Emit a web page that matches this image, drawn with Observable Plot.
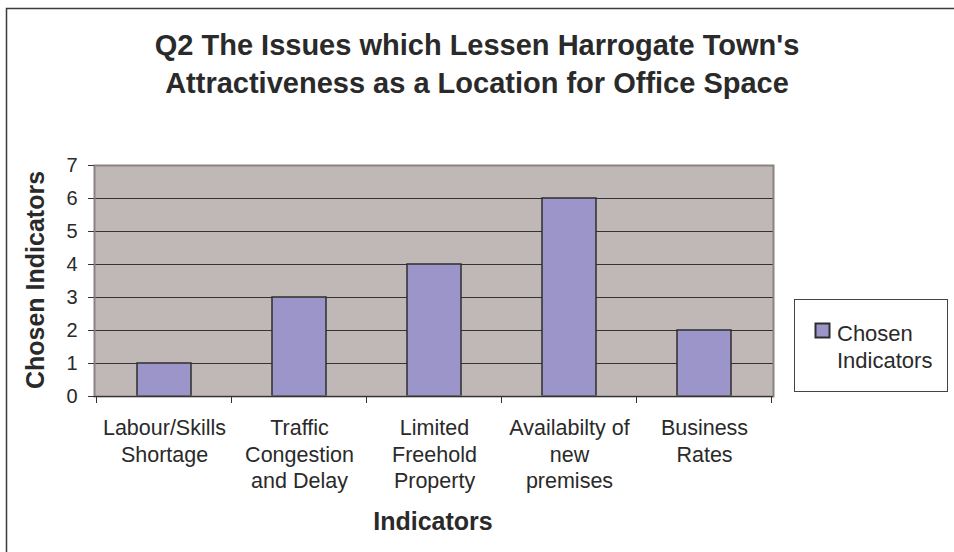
<!DOCTYPE html>
<html>
<head>
<meta charset="utf-8">
<script src="https://cdn.jsdelivr.net/npm/d3@7"></script>
<script src="https://cdn.jsdelivr.net/npm/@observablehq/plot@0.6"></script>
<style>
  html, body { margin: 0; padding: 0; background: #fff; }
  #chart { width: 954px; height: 552px; overflow: hidden; }
</style>
</head>
<body>
<div id="chart"></div>
<script>
const categories = ["Labour/Skills Shortage", "Traffic Congestion and Delay", "Limited Freehold Property", "Availabilty of new premises", "Business Rates"];
const tickLabels = ["Labour/Skills\nShortage", "Traffic\nCongestion\nand Delay", "Limited\nFreehold\nProperty", "Availabilty of\nnew\npremises", "Business\nRates"];
const values = [1, 3, 4, 6, 2];
const yTicks = [0, 1, 2, 3, 4, 5, 6, 7];
const gridTicks = [1, 2, 3, 4, 5, 6];
const legendLines = ["Chosen", "Indicators"];
const titleLines = ["Q2 The Issues which Lessen Harrogate Town's", "Attractiveness as a Location for Office Space"];
const xTitle = "Indicators";
const yTitle = "Chosen Indicators";

const data = categories.map((c, i) => ({category: c, value: values[i]}));
const labelOf = new Map(categories.map((c, i) => [c, tickLabels[i]]));

const font = "'Liberation Sans', Arial, Helvetica, sans-serif";
const textColor = "#2a2a2a";
const barFill = "#9B95C9";

const chart = Plot.plot({
  width: 954,
  height: 552,
  marginTop: 165,
  marginBottom: 156,
  marginLeft: 94,
  marginRight: 181,
  style: {fontFamily: font, background: "transparent", color: textColor},
  x: {domain: categories, paddingInner: 0.6, paddingOuter: 0.3, label: null},
  y: {domain: [0, 7], label: null},
  marks: [
    Plot.frame({fill: "#C0B8B6", stroke: null}),
    Plot.gridY(gridTicks, {stroke: "#333", strokeOpacity: 1, strokeWidth: 1}),
    Plot.barY(data, {x: "category", y: "value", fill: barFill, stroke: "#2e2e2e", strokeWidth: 1.5}),
    Plot.frame({stroke: "#8a8282", strokeWidth: 2}),
    Plot.ruleY([0], {stroke: "#333", strokeWidth: 1}),
    Plot.axisY({ticks: yTicks, tickSize: 6, tickPadding: 11, fontSize: 20, stroke: "#333", label: null, tickFormat: d => String(d)}),
    Plot.axisX({tickSize: 0, tickPadding: 20, fontSize: 21.5, lineHeight: 1.23, label: null, tickFormat: d => labelOf.get(d)})
  ]
});

document.getElementById("chart").appendChild(chart);

const svg = d3.select(chart);
const xs = chart.scale("x");
const step = xs.step, bw = xs.bandwidth;
const bounds = categories.map(c => xs.apply(c) - (step - bw) / 2);
bounds.push(bounds[bounds.length - 1] + step);
svg.append("g").selectAll("line").data(bounds).join("line")
  .attr("x1", d => d).attr("x2", d => d)
  .attr("y1", 396).attr("y2", 403)
  .attr("stroke", "#333").attr("stroke-width", 1);

// outer frame (right and bottom edges fall outside the picture)
svg.append("rect").attr("x", 6.5).attr("y", 8.5).attr("width", 1000).attr("height", 600)
  .attr("fill", "none").attr("stroke", "#3a3a3a").attr("stroke-width", 1.5);

// title
const t = svg.append("text").attr("text-anchor", "middle").attr("font-family", font)
  .attr("font-weight", "bold").attr("font-size", 29).attr("fill", textColor);
titleLines.forEach((line, i) => {
  t.append("tspan").attr("x", 477).attr("y", 55 + i * 38).text(line);
});

// axis titles
svg.append("text").attr("x", 433).attr("y", 530).attr("text-anchor", "middle")
  .attr("font-family", font).attr("font-weight", "bold").attr("font-size", 25)
  .attr("fill", textColor).text(xTitle);
svg.append("text").attr("transform", "translate(44,280) rotate(-90)").attr("text-anchor", "middle")
  .attr("font-family", font).attr("font-weight", "bold").attr("font-size", 25)
  .attr("fill", textColor).text(yTitle);

// legend
const lg = svg.append("g");
lg.append("rect").attr("x", 794.5).attr("y", 299.5).attr("width", 153).attr("height", 92)
  .attr("fill", "#fff").attr("stroke", "#444").attr("stroke-width", 1);
lg.append("rect").attr("x", 815.5).attr("y", 323.5).attr("width", 14).attr("height", 14)
  .attr("fill", barFill).attr("stroke", "#2e2e2e").attr("stroke-width", 2);
const lt = lg.append("text").attr("text-anchor", "start").attr("font-family", font)
  .attr("font-size", 22).attr("fill", textColor);
legendLines.forEach((line, i) => {
  lt.append("tspan").attr("x", 837).attr("y", 341 + i * 27).text(line);
});
</script>
</body>
</html>
